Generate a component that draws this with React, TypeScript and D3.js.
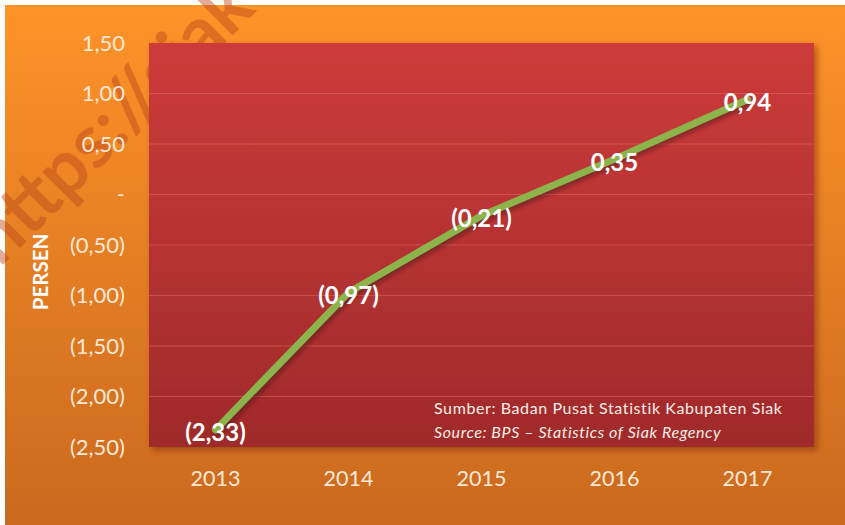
import React from "react";
import * as d3 from "d3";

const years = ["2013", "2014", "2015", "2016", "2017"];
const values = [-2.33, -0.97, -0.21, 0.35, 0.94];
const valueLabels = ["(2,33)", "(0,97)", "(0,21)", "0,35", "0,94"];
const yTicks = [1.5, 1.0, 0.5, 0, -0.5, -1.0, -1.5, -2.0, -2.5];
const yTickLabels = ["1,50", "1,00", "0,50", "-", "(0,50)", "(1,00)", "(1,50)", "(2,00)", "(2,50)"];

const W = 845, H = 525;
const plot = { left: 149, right: 814, top: 43, bottom: 447 };
const FONT = "Lato, 'Open Sans', sans-serif";

export default function App() {
  const x = d3.scaleBand<string>().domain(years).range([plot.left, plot.right]);
  const y = d3.scaleLinear().domain([-2.5, 1.5]).range([plot.bottom, plot.top]);
  const cx = (d: string) => (x(d) as number) + x.bandwidth() / 2;
  const pts: [number, number][] = years.map((yr, i) => [cx(yr), y(values[i])]);
  const line = d3.line<[number, number]>();
  return (
    <svg width={W} height={H} style={{ position: "absolute", left: 0, top: 0 }}>
      <defs>
        <linearGradient id="bg" x1="0" y1="0" x2="0" y2="1">
          <stop offset="0" stopColor="#fe9328" />
          <stop offset="1" stopColor="#ca691f" />
        </linearGradient>
        <linearGradient id="pl" x1="0" y1="0" x2="0" y2="1">
          <stop offset="0" stopColor="#cd3b3a" />
          <stop offset="1" stopColor="#9f2a2b" />
        </linearGradient>
        <filter id="sh" x="-10%" y="-10%" width="120%" height="120%">
          <feDropShadow dx="3" dy="3" stdDeviation="3" floodColor="#5a1a00" floodOpacity="0.45" />
        </filter>
        <filter id="lsh" x="-10%" y="-10%" width="120%" height="120%">
          <feDropShadow dx="2" dy="3" stdDeviation="2" floodColor="#3a0a0a" floodOpacity="0.5" />
        </filter>
      </defs>
      <rect x={0} y={0} width={W} height={H} fill="#ffffff" />
      <rect x={5} y={5} width={W - 5} height={H - 5} fill="url(#bg)" />
      <text
        transform="translate(0,268) rotate(-45)"
        fontFamily={FONT}
        fontWeight={700}
        fontSize={74}
        fill="#b8461a"
        fillOpacity={0.45}
      >
        https://siak
      </text>
      <rect
        x={plot.left}
        y={plot.top}
        width={plot.right - plot.left}
        height={plot.bottom - plot.top}
        fill="url(#pl)"
        filter="url(#sh)"
      />
      {yTicks.map((t, i) => (
        <g key={i}>
          {i > 0 && i < yTicks.length - 1 && (
            <line x1={plot.left} x2={plot.right} y1={y(t)} y2={y(t)} stroke="#e06a60" strokeOpacity={0.55} strokeWidth={1} />
          )}
          <text
            x={125}
            y={y(t)}
            dy="0.35em"
            textAnchor="end"
            fontFamily={FONT}
            fontSize={22}
            fill="#fbe8d6"
          >
            {yTickLabels[i]}
          </text>
        </g>
      ))}
      {years.map((yr) => (
        <text key={yr} x={cx(yr)} y={478} dy="0.35em" textAnchor="middle" fontFamily={FONT} fontSize={21.5} fill="#fbe8d6">
          {yr}
        </text>
      ))}
      <text
        transform="translate(41,272) rotate(-90)"
        textAnchor="middle"
        dy="0.35em"
        fontFamily={FONT}
        fontWeight={700}
        fontSize={20.5}
        fill="#ffffff"
      >
        PERSEN
      </text>
      <path d={line(pts) || ""} fill="none" stroke="#8db44c" strokeWidth={7} strokeLinecap="round" filter="url(#lsh)" />
      {pts.map((p, i) => (
        <text
          key={i}
          x={p[0]}
          y={p[1] + 3}
          dy="0.35em"
          textAnchor="middle"
          fontFamily={FONT}
          fontWeight={700}
          fontSize={24}
          fill="#ffffff"
        >
          {valueLabels[i]}
        </text>
      ))}
      <text x={434} y={414} fontFamily={FONT} fontSize={16} letterSpacing={0.6} fill="#fbeee6">
        Sumber: Badan Pusat Statistik Kabupaten Siak
      </text>
      <text x={434} y={438} fontFamily={FONT} fontStyle="italic" fontSize={16} letterSpacing={0.6} fill="#fbeee6">
        Source: BPS – Statistics of Siak Regency
      </text>
    </svg>
  );
}
